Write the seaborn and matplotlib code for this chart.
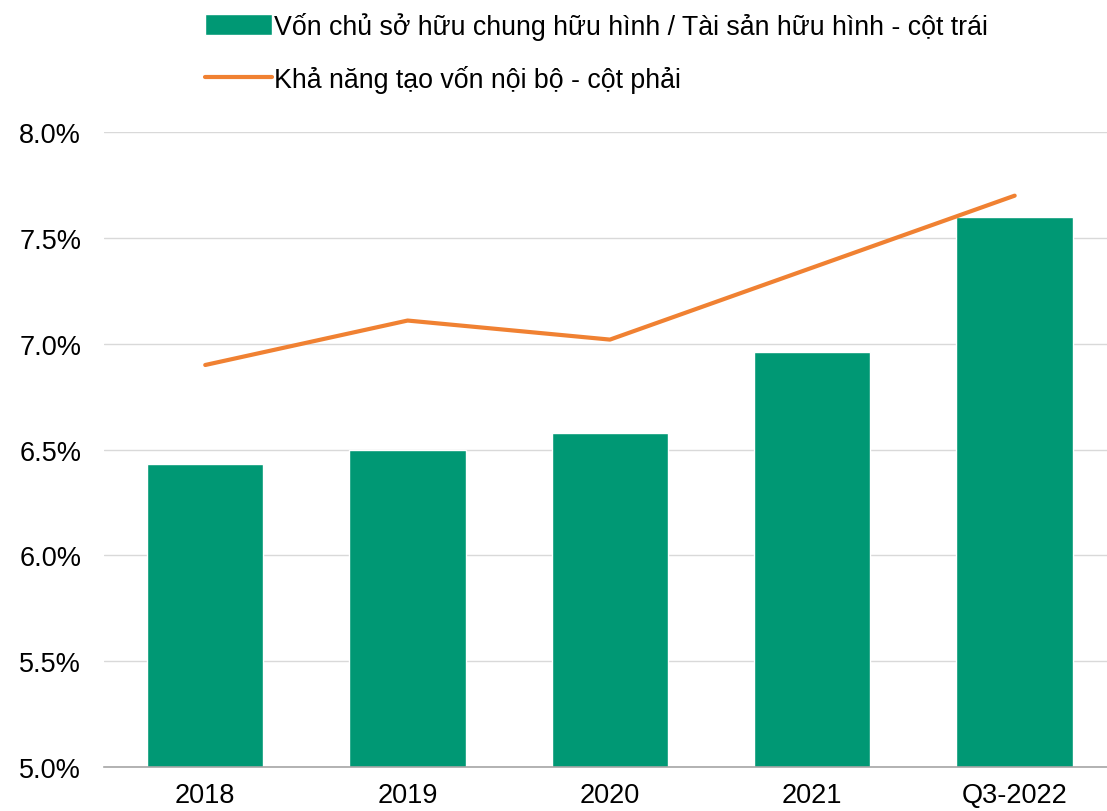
import pandas as pd
import numpy as np
import matplotlib.pyplot as plt
import seaborn as sns

# du lieu
categories = ["2018", "2019", "2020", "2021", "Q3-2022"]
tce_ta = [6.43, 6.50, 6.58, 6.96, 7.60]
internal_capital = [6.90, 7.11, 7.02, 7.36, 7.70]

bar_label = "Vốn chủ sở hữu chung hữu hình / Tài sản hữu hình - cột trái"
line_label = "Khả năng tạo vốn nội bộ - cột phải"

df = pd.DataFrame({"period": categories, "tce": tce_ta, "internal": internal_capital})

sns.set_style("white")
plt.rcParams['font.family'] = ['Liberation Sans', 'DejaVu Sans']

fig = plt.figure(figsize=(11.07, 8.12), dpi=100)
ax = fig.add_axes([0.094, 0.054, 0.914, 0.782])

sns.barplot(data=df, x="period", y="tce", color="#009874", saturation=1,
            width=0.575, ax=ax, label=bar_label, zorder=2)
sns.lineplot(x=np.arange(len(categories)), y=df["internal"], color="#F08132",
             linewidth=3, ax=ax, label=line_label, zorder=3)

ax.set_ylim(5.0, 8.0)
ax.set_xlim(-0.5, 4.5)
ax.set_yticks(np.arange(5.0, 8.01, 0.5))
ax.set_yticklabels([f"{v:.1f}%" for v in np.arange(5.0, 8.01, 0.5)])
ax.yaxis.grid(True, color="#D9D9D9", linewidth=1, zorder=0)
ax.set_axisbelow(True)
ax.set_xlabel("")
ax.set_ylabel("")
ax.tick_params(axis="both", labelsize=19.5, length=0, colors="#000000")
ax.tick_params(axis="y", pad=16.5)
ax.tick_params(axis="x", pad=10.5)
for s in ["top", "right", "left"]:
    ax.spines[s].set_visible(False)
ax.spines["bottom"].set_color("#A6A6A6")
ax.spines["bottom"].set_linewidth(1.2)

# legend: cot truoc, duong sau
handles, labels = ax.get_legend_handles_labels()
order = [labels.index(bar_label), labels.index(line_label)]
if ax.get_legend():
    ax.get_legend().remove()
leg = fig.legend([handles[i] for i in order], [labels[i] for i in order],
                 loc="upper left", bbox_to_anchor=(0.163, 1.014), frameon=False,
                 fontsize=19.3, handlelength=2.5, handleheight=0.8,
                 handletextpad=0.1, labelspacing=0.95)
for t in leg.get_texts():
    t.set_color("#000000")

plt.savefig("out.png", dpi=100)
